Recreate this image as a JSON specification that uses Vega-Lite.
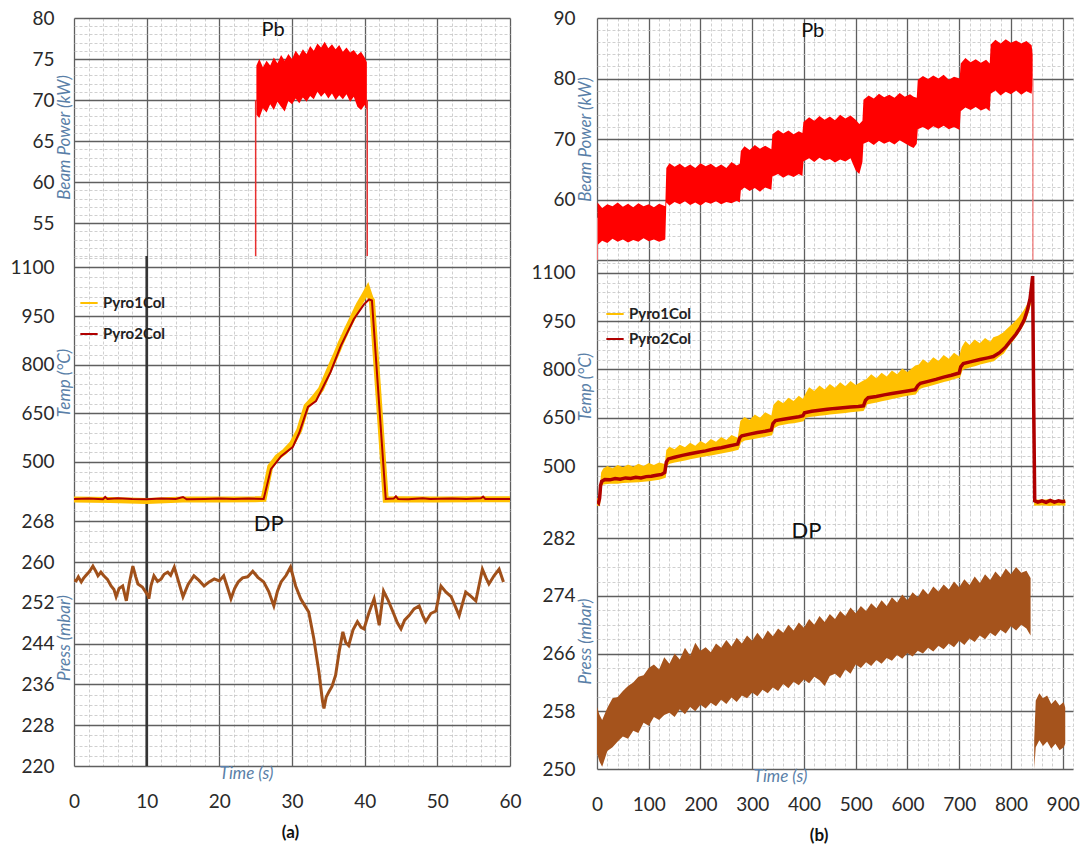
{
  "$schema": "https://vega.github.io/schema/vega-lite/v6.json",
  "padding": {"left": 9, "top": 9, "right": 5, "bottom": 5},
  "background": "white",
  "config": {
    "font": "Lato",
    "view": {"stroke": null},
    "axis": {
      "labelFont": "Lato", "labelFontSize": 19, "labelColor": "#2a2a2a", "ticks": false, "domain": false,
      "labelFlush": false, "labelOverlap": false, "titleFont": "Lato", "titleFontStyle": "italic",
      "titleFontWeight": "normal", "titleFontSize": 17, "titleColor": "#5a7fa8", "grid": true, "format": "d"
    },
    "axisX": {"labelPadding": 26},
    "axisY": {"labelPadding": 20, "titleBaseline": "middle"}
  },
  "datasets": {
    "beamA_band": [
      {"t":25.1,"v":68.2,"v2":74.2},{"t":25.5,"v":67.8,"v2":75},{"t":26,"v":69,"v2":74},{"t":26.5,"v":68.5,"v2":74.8},
      {"t":27,"v":69.5,"v2":74.2},{"t":27.5,"v":68.8,"v2":75.2},{"t":28,"v":69.8,"v2":74.5},{"t":28.5,"v":69.2,"v2":75.5},
      {"t":29,"v":68.6,"v2":74.8},{"t":29.5,"v":69.9,"v2":75.6},{"t":30,"v":69.5,"v2":75},{"t":30.5,"v":70.2,"v2":76},
      {"t":31,"v":69.6,"v2":75.4},{"t":31.5,"v":70.3,"v2":76.2},{"t":32,"v":69.8,"v2":75.6},{"t":32.5,"v":70.5,"v2":76.6},
      {"t":33,"v":70.1,"v2":76},{"t":33.5,"v":71,"v2":76.9},{"t":34,"v":70.4,"v2":76.4},{"t":34.5,"v":70.9,"v2":77.1},
      {"t":35,"v":70.2,"v2":76.3},{"t":35.5,"v":70.8,"v2":76.8},{"t":36,"v":70,"v2":76.2},{"t":36.5,"v":70.6,"v2":76.7},
      {"t":37,"v":70.1,"v2":75.9},{"t":37.5,"v":70.7,"v2":76.4},{"t":38,"v":69.8,"v2":75.8},{"t":38.5,"v":70.4,"v2":76.1},
      {"t":39,"v":69.2,"v2":75.5},{"t":39.5,"v":68.8,"v2":75.9},{"t":40,"v":69.4,"v2":75.2},{"t":40.3,"v":68.8,"v2":74.6}
    ],
    "beamA_edge": [{"t":25.0,"v":50,"v2":70},{"t":40.35,"v":50,"v2":70}],
    "tempA1": [
      {"t":0,"v":384},{"t":5,"v":383},{"t":10,"v":380},{"t":15,"v":384},{"t":20,"v":384},{"t":25,"v":385},{"t":26.1,"v":386},
      {"t":27,"v":485},{"t":28,"v":515},{"t":29,"v":532},{"t":30,"v":556},{"t":31,"v":598},{"t":32,"v":672},{"t":33,"v":696},
      {"t":34,"v":725},{"t":35,"v":778},{"t":36,"v":828},{"t":36.7,"v":866},{"t":37.5,"v":905},{"t":38.5,"v":952},{"t":39.2,"v":985},
      {"t":39.9,"v":1012},{"t":40.4,"v":1032},{"t":40.8,"v":1005},{"t":41,"v":998},{"t":42.9,"v":384},{"t":45,"v":385},
      {"t":50,"v":384},{"t":55,"v":385},{"t":60,"v":385}
    ],
    "tempA2": [
      {"t":0,"v":386},{"t":2,"v":387},{"t":4,"v":385},{"t":4.3,"v":392},{"t":4.6,"v":386},{"t":6,"v":388},{"t":8,"v":386},
      {"t":10,"v":385},{"t":12,"v":387},{"t":14,"v":386},{"t":15,"v":392},{"t":15.5,"v":385},{"t":18,"v":386},{"t":20,"v":387},
      {"t":22,"v":386},{"t":24,"v":387},{"t":26.1,"v":386},{"t":27.1,"v":478},{"t":28.5,"v":518},{"t":30.1,"v":546},{"t":31,"v":590},
      {"t":32.2,"v":670},{"t":33.3,"v":688},{"t":35.3,"v":777},{"t":36.7,"v":857},{"t":38.5,"v":940},{"t":39.9,"v":986},
      {"t":40.6,"v":1001},{"t":41,"v":998},{"t":42.9,"v":386},{"t":44,"v":387},{"t":44.3,"v":394},{"t":44.6,"v":386},{"t":46,"v":385},
      {"t":48,"v":388},{"t":49,"v":386},{"t":52,"v":387},{"t":54,"v":386},{"t":56,"v":388},{"t":56.3,"v":393},{"t":56.6,"v":386},
      {"t":58,"v":386},{"t":60,"v":386}
    ],
    "pressA": [
      {"t":0,"v":256.5},{"t":0.3,"v":256.3},{"t":0.6,"v":257.1},{"t":1,"v":256.1},{"t":1.3,"v":256.8},{"t":1.6,"v":257.3},{"t":2.1,"v":258.1},{"t":2.6,"v":259.2},{"t":3,"v":258.2},{"t":3.3,"v":257.3},{"t":3.7,"v":258},{"t":4.1,"v":257.3},
      {"t":4.6,"v":256.6},{"t":5.1,"v":255.3},{"t":5.5,"v":254.6},{"t":5.8,"v":253.2},{"t":6.2,"v":254.8},{"t":6.7,"v":255.3},{"t":7.2,"v":252.4},{"t":7.6,"v":255.8},{"t":8.1,"v":259.2},{"t":8.5,"v":257.1},{"t":8.8,"v":255.7},{"t":9.4,"v":255.1},
      {"t":10.2,"v":253.4},{"t":10.3,"v":252.8},{"t":10.6,"v":255.4},{"t":11,"v":257.3},{"t":11.5,"v":256.2},{"t":12,"v":256.7},{"t":12.4,"v":257.6},{"t":12.9,"v":258},{"t":13.3,"v":257.4},{"t":13.8,"v":259},
      {"t":14.4,"v":256.1},{"t":15,"v":253.2},{"t":15.7,"v":255.6},{"t":16.5,"v":257.3},{"t":17.2,"v":256.4},{"t":17.9,"v":255.3},{"t":18.6,"v":256.1},{"t":19.3,"v":256.7},{"t":20,"v":256.3},{"t":20.6,"v":257.3},{"t":21.1,"v":255.1},{"t":21.6,"v":252.8},
      {"t":22.1,"v":254.8},{"t":22.6,"v":256.1},{"t":23.2,"v":256.9},{"t":23.9,"v":257.1},{"t":24.6,"v":258.2},{"t":25.3,"v":257},{"t":26.1,"v":256.1},{"t":26.8,"v":254.2},{"t":27.5,"v":251.4},{"t":28,"v":254.3},{"t":28.5,"v":256.1},{"t":29.2,"v":257.4},{"t":29.8,"v":259},
      {"t":30.5,"v":255.3},{"t":31.2,"v":252.8},{"t":31.7,"v":251.6},{"t":32.3,"v":250.2},{"t":33,"v":245},{"t":33.7,"v":238.5},{"t":34.2,"v":232.7},
      {"t":34.4,"v":231.3},{"t":34.7,"v":233.5},{"t":35.1,"v":234.6},{"t":35.5,"v":235.6},{"t":36,"v":237.8},{"t":36.5,"v":242.5},{"t":37,"v":246.3},{"t":37.4,"v":244.2},{"t":37.8,"v":243.6},{"t":38.4,"v":246.7},{"t":39,"v":248.3},
      {"t":39.5,"v":247.2},{"t":39.9,"v":246.9},{"t":40.6,"v":250.1},{"t":41.3,"v":252.8},{"t":42,"v":247.6},{"t":42.6,"v":254.3},{"t":43.2,"v":252.6},{"t":43.9,"v":250.2},{"t":44.5,"v":248.1},{"t":45,"v":246.9},
      {"t":45.5,"v":248.6},{"t":46.1,"v":249.5},{"t":46.8,"v":250.8},{"t":47.5,"v":251.4},{"t":48,"v":249.5},{"t":48.4,"v":248.3},{"t":49.1,"v":249.9},{"t":49.8,"v":250.4},{"t":50.5,"v":255.3},{"t":51.2,"v":254.1},{"t":51.9,"v":253.2},
      {"t":52.5,"v":251.2},{"t":53,"v":249.5},{"t":53.9,"v":254.1},{"t":54.6,"v":253.3},{"t":55.3,"v":252.4},{"t":56.2,"v":258.6},{"t":56.7,"v":256.9},{"t":57.1,"v":255.7},{"t":57.8,"v":257.3},
      {"t":58.5,"v":258.6},{"t":59.1,"v":256.1}
    ],
    "beamB_band": [
      {"t":1,"v":52.5,"v2":59.5},{"t":10,"v":53.2,"v2":58.6},{"t":20,"v":52.8,"v2":59.2},{"t":30,"v":53.5,"v2":58.9},{"t":40,"v":53,"v2":59.5},
      {"t":50,"v":53.4,"v2":58.8},{"t":60,"v":52.9,"v2":59.3},{"t":70,"v":53.3,"v2":58.7},{"t":80,"v":53,"v2":59.4},{"t":90,"v":53.6,"v2":58.9},
      {"t":100,"v":53.1,"v2":59.2},{"t":110,"v":53.4,"v2":58.7},{"t":120,"v":53,"v2":59.3},{"t":132,"v":53.4,"v2":58.9},
      {"t":134,"v":59.5,"v2":65.2},{"t":140,"v":59,"v2":66},{"t":150,"v":59.6,"v2":65.4},{"t":160,"v":59.2,"v2":65.9},{"t":170,"v":59.7,"v2":65.3},
      {"t":180,"v":59.1,"v2":65.8},{"t":190,"v":59.5,"v2":65.2},{"t":200,"v":59,"v2":66},{"t":210,"v":59.6,"v2":65.5},{"t":220,"v":59.3,"v2":65.9},
      {"t":230,"v":59.7,"v2":65.3},{"t":240,"v":59.2,"v2":65.8},{"t":250,"v":59.6,"v2":65.2},{"t":260,"v":59.4,"v2":66.2},{"t":270,"v":59.8,"v2":65.6},
      {"t":276,"v":59.5,"v2":65.9},
      {"t":278,"v":61.5,"v2":68},{"t":285,"v":62,"v2":68.8},{"t":295,"v":61.4,"v2":68.2},{"t":305,"v":61.9,"v2":69},{"t":315,"v":61.3,"v2":68.4},
      {"t":325,"v":62,"v2":68.9},{"t":337,"v":61.6,"v2":68.3},
      {"t":339,"v":63.8,"v2":70.8},{"t":350,"v":64.2,"v2":71.5},{"t":360,"v":63.6,"v2":70.9},{"t":370,"v":64.1,"v2":71.4},{"t":380,"v":63.7,"v2":70.8},
      {"t":390,"v":64.2,"v2":71.3},{"t":397,"v":63.9,"v2":71},
      {"t":399,"v":66.3,"v2":72.8},{"t":410,"v":66.8,"v2":73.6},{"t":420,"v":66.2,"v2":73},{"t":430,"v":66.9,"v2":73.8},{"t":440,"v":66.4,"v2":73.2},
      {"t":450,"v":66.7,"v2":73.7},{"t":460,"v":66.1,"v2":73.1},{"t":470,"v":66.6,"v2":74},{"t":480,"v":66.3,"v2":73.4},{"t":490,"v":66.8,"v2":73.9},
      {"t":500,"v":64.8,"v2":73.2},{"t":507,"v":64.2,"v2":72.5},{"t":513,"v":66.2,"v2":73},
      {"t":515,"v":69.2,"v2":76.5},{"t":525,"v":69.6,"v2":77.2},{"t":535,"v":69,"v2":76.7},{"t":545,"v":69.7,"v2":77.5},{"t":555,"v":69.2,"v2":76.9},
      {"t":565,"v":69.6,"v2":77.3},{"t":575,"v":69.1,"v2":76.8},{"t":585,"v":69.8,"v2":77.6},{"t":595,"v":69.3,"v2":77},{"t":605,"v":68.8,"v2":77.4},
      {"t":612,"v":68.5,"v2":77},{"t":618,"v":69.2,"v2":76.8},
      {"t":620,"v":71.6,"v2":79.8},{"t":630,"v":72,"v2":80.4},{"t":640,"v":71.5,"v2":79.9},{"t":650,"v":72.1,"v2":80.5},{"t":660,"v":71.7,"v2":80},
      {"t":670,"v":72.2,"v2":80.6},{"t":680,"v":71.6,"v2":79.8},{"t":690,"v":72,"v2":80.3},{"t":701,"v":71.5,"v2":80},
      {"t":703,"v":74.6,"v2":82.5},{"t":712,"v":75.2,"v2":83.4},{"t":722,"v":74.8,"v2":82.7},{"t":732,"v":75.3,"v2":83.2},{"t":742,"v":74.7,"v2":82.6},
      {"t":752,"v":75.1,"v2":83.1},{"t":759,"v":74.6,"v2":82.5},
      {"t":761,"v":77.5,"v2":85.6},{"t":770,"v":78,"v2":86.4},{"t":780,"v":77.2,"v2":85.8},{"t":790,"v":77.8,"v2":86.5},{"t":800,"v":77.4,"v2":85.9},
      {"t":810,"v":78,"v2":86.3},{"t":820,"v":77.3,"v2":85.8},{"t":830,"v":77.9,"v2":86.2},{"t":840,"v":77.5,"v2":85.5},{"t":842,"v":79,"v2":84}
    ],
    "beamB_edge": [{"t":0.8,"v":49,"v2":57},{"t":842.5,"v":49,"v2":80}],
    "tempB_band": [
      {"t":0,"v":380,"v2":400,"seg":1},{"t":4,"v":380,"v2":400,"seg":1},{"t":6,"v":410,"v2":440,"seg":1},{"t":8,"v":440,"v2":480,"seg":1},
      {"t":12,"v":446,"v2":492,"seg":1},{"t":20,"v":447,"v2":500,"seg":1},{"t":30,"v":449,"v2":493,"seg":1},{"t":40,"v":448,"v2":503,"seg":1},
      {"t":50,"v":450,"v2":496,"seg":1},{"t":60,"v":451,"v2":505,"seg":1},{"t":70,"v":452,"v2":498,"seg":1},{"t":80,"v":453,"v2":507,"seg":1},
      {"t":90,"v":454,"v2":500,"seg":1},{"t":100,"v":456,"v2":509,"seg":1},{"t":110,"v":458,"v2":503,"seg":1},{"t":120,"v":460,"v2":511,"seg":1},
      {"t":131,"v":466,"v2":506,"seg":1},{"t":134,"v":503,"v2":550,"seg":1},{"t":140,"v":510,"v2":560,"seg":1},{"t":150,"v":514,"v2":552,"seg":1},
      {"t":160,"v":517,"v2":566,"seg":1},{"t":170,"v":520,"v2":558,"seg":1},{"t":180,"v":524,"v2":572,"seg":1},{"t":190,"v":527,"v2":563,"seg":1},
      {"t":200,"v":530,"v2":578,"seg":1},{"t":210,"v":533,"v2":569,"seg":1},{"t":220,"v":536,"v2":584,"seg":1},{"t":230,"v":539,"v2":575,"seg":1},
      {"t":240,"v":542,"v2":590,"seg":1},{"t":250,"v":545,"v2":581,"seg":1},{"t":260,"v":548,"v2":596,"seg":1},{"t":272,"v":553,"v2":588,"seg":1},
      {"t":277,"v":575,"v2":640,"seg":1},{"t":285,"v":582,"v2":652,"seg":1},{"t":295,"v":585,"v2":643,"seg":1},{"t":305,"v":588,"v2":660,"seg":1},
      {"t":315,"v":591,"v2":650,"seg":1},{"t":325,"v":594,"v2":667,"seg":1},{"t":337,"v":598,"v2":657,"seg":1},{"t":341,"v":620,"v2":690,"seg":1},
      {"t":350,"v":628,"v2":705,"seg":1},{"t":360,"v":631,"v2":695,"seg":1},{"t":370,"v":634,"v2":712,"seg":1},{"t":380,"v":636,"v2":702,"seg":1},
      {"t":390,"v":639,"v2":718,"seg":1},{"t":398,"v":642,"v2":708,"seg":1},{"t":402,"v":652,"v2":722,"seg":1},{"t":410,"v":655,"v2":745,"seg":1},
      {"t":420,"v":657,"v2":733,"seg":1},{"t":430,"v":659,"v2":750,"seg":1},{"t":440,"v":661,"v2":738,"seg":1},{"t":450,"v":663,"v2":755,"seg":1},
      {"t":460,"v":665,"v2":743,"seg":1},{"t":470,"v":666,"v2":760,"seg":1},{"t":480,"v":668,"v2":748,"seg":1},{"t":490,"v":670,"v2":764,"seg":1},
      {"t":500,"v":672,"v2":752,"seg":1},{"t":514,"v":674,"v2":765,"seg":1},{"t":521,"v":694,"v2":770,"seg":1},{"t":530,"v":697,"v2":785,"seg":1},
      {"t":540,"v":700,"v2":773,"seg":1},{"t":550,"v":704,"v2":790,"seg":1},{"t":560,"v":707,"v2":778,"seg":1},{"t":570,"v":711,"v2":797,"seg":1},
      {"t":580,"v":714,"v2":785,"seg":1},{"t":590,"v":718,"v2":803,"seg":1},{"t":600,"v":721,"v2":792,"seg":1},{"t":615,"v":725,"v2":812,"seg":1},
      {"t":622,"v":741,"v2":815,"seg":1},{"t":630,"v":746,"v2":832,"seg":1},{"t":640,"v":750,"v2":820,"seg":1},{"t":650,"v":755,"v2":838,"seg":1},
      {"t":660,"v":759,"v2":826,"seg":1},{"t":670,"v":764,"v2":845,"seg":1},{"t":680,"v":768,"v2":833,"seg":1},{"t":690,"v":773,"v2":852,"seg":1},
      {"t":700,"v":777,"v2":840,"seg":1},{"t":705,"v":800,"v2":870,"seg":1},{"t":712,"v":805,"v2":888,"seg":1},{"t":720,"v":809,"v2":876,"seg":1},
      {"t":730,"v":813,"v2":893,"seg":1},{"t":740,"v":818,"v2":881,"seg":1},{"t":750,"v":822,"v2":898,"seg":1},{"t":760,"v":826,"v2":886,"seg":1},
      {"t":766,"v":828,"v2":900,"seg":1},{"t":775,"v":840,"v2":905,"seg":1},{"t":785,"v":852,"v2":915,"seg":1},{"t":795,"v":875,"v2":930,"seg":1},
      {"t":805,"v":895,"v2":945,"seg":1},{"t":815,"v":918,"v2":962,"seg":1},{"t":825,"v":945,"v2":985,"seg":1},{"t":832,"v":975,"v2":1005,"seg":1},
      {"t":838,"v":1010,"v2":1035,"seg":1},{"t":841,"v":1045,"v2":1060,"seg":1},
      {"t":845,"v":380,"v2":396,"seg":2},{"t":860,"v":381,"v2":395,"seg":2},{"t":875,"v":379,"v2":397,"seg":2},{"t":890,"v":381,"v2":394,"seg":2},{"t":905,"v":380,"v2":396,"seg":2}
    ],
    "tempB2": [
      {"t":0,"v":392},{"t":3,"v":386},{"t":5,"v":400},{"t":7,"v":440},{"t":9,"v":452},{"t":15,"v":458},{"t":25,"v":457},{"t":35,"v":461},
      {"t":45,"v":459},{"t":55,"v":463},{"t":65,"v":461},{"t":75,"v":465},{"t":85,"v":463},{"t":95,"v":467},{"t":105,"v":468},{"t":115,"v":471},
      {"t":125,"v":474},{"t":131,"v":480},{"t":134,"v":512},{"t":138,"v":522},{"t":150,"v":527},{"t":165,"v":533},{"t":180,"v":538},
      {"t":195,"v":543},{"t":210,"v":547},{"t":225,"v":553},{"t":240,"v":557},{"t":255,"v":562},{"t":272,"v":568},{"t":276,"v":588},
      {"t":280,"v":594},{"t":295,"v":599},{"t":310,"v":604},{"t":325,"v":608},{"t":337,"v":612},{"t":340,"v":632},{"t":345,"v":641},
      {"t":360,"v":645},{"t":375,"v":649},{"t":390,"v":653},{"t":398,"v":656},{"t":401,"v":665},{"t":415,"v":670},{"t":430,"v":673},
      {"t":445,"v":676},{"t":460,"v":679},{"t":475,"v":681},{"t":490,"v":683},{"t":505,"v":685},{"t":515,"v":687},{"t":519,"v":704},
      {"t":524,"v":712},{"t":540,"v":716},{"t":555,"v":721},{"t":570,"v":725},{"t":585,"v":729},{"t":600,"v":733},{"t":615,"v":737},
      {"t":620,"v":750},{"t":625,"v":757},{"t":640,"v":763},{"t":655,"v":769},{"t":670,"v":776},{"t":685,"v":782},{"t":700,"v":789},
      {"t":703,"v":808},{"t":708,"v":818},{"t":725,"v":825},{"t":740,"v":831},{"t":755,"v":836},{"t":766,"v":840},{"t":778,"v":852},
      {"t":790,"v":870},{"t":800,"v":890},{"t":810,"v":910},{"t":818,"v":930},{"t":826,"v":955},{"t":832,"v":985},{"t":837,"v":1020},
      {"t":840,"v":1060},{"t":842,"v":1090},{"t":844,"v":700},{"t":846,"v":392},{"t":852,"v":388},{"t":860,"v":392},{"t":868,"v":387},
      {"t":876,"v":393},{"t":884,"v":388},{"t":892,"v":392},{"t":900,"v":389},{"t":905,"v":391}
    ],
    "pressB_band": [
      {"t":0,"v":252.2,"v2":258.6,"seg":1},{"t":5,"v":251,"v2":257.5,"seg":1},{"t":10,"v":250.3,"v2":256.8,"seg":1},{"t":20,"v":252.5,"v2":258.5,"seg":1},
      {"t":30,"v":253,"v2":259.8,"seg":1},{"t":40,"v":253.8,"v2":260,"seg":1},{"t":50,"v":254.5,"v2":260.8,"seg":1},{"t":60,"v":254.2,"v2":261.5,"seg":1},
      {"t":70,"v":255.3,"v2":262,"seg":1},{"t":80,"v":255,"v2":262.8,"seg":1},{"t":90,"v":256.4,"v2":263,"seg":1},{"t":100,"v":256,"v2":264,"seg":1},
      {"t":110,"v":257.2,"v2":264.5,"seg":1},{"t":120,"v":256.8,"v2":263.8,"seg":1},{"t":130,"v":257.5,"v2":265.5,"seg":1},{"t":140,"v":257.8,"v2":264.6,"seg":1},
      {"t":150,"v":257.2,"v2":266,"seg":1},{"t":160,"v":258.3,"v2":265.2,"seg":1},{"t":170,"v":257.6,"v2":266.8,"seg":1},{"t":180,"v":258.6,"v2":265.7,"seg":1},
      {"t":190,"v":258,"v2":267.5,"seg":1},{"t":200,"v":258.9,"v2":266.4,"seg":1},{"t":210,"v":258.4,"v2":266.9,"seg":1},{"t":220,"v":259.2,"v2":266.2,"seg":1},
      {"t":230,"v":258.7,"v2":267.4,"seg":1},{"t":240,"v":259.6,"v2":266.8,"seg":1},{"t":250,"v":259,"v2":267.9,"seg":1},{"t":260,"v":259.9,"v2":267,"seg":1},
      {"t":270,"v":259.3,"v2":268.2,"seg":1},{"t":280,"v":260.2,"v2":267.4,"seg":1},{"t":290,"v":259.8,"v2":268.5,"seg":1},{"t":300,"v":260.6,"v2":267.8,"seg":1},
      {"t":310,"v":260.1,"v2":268.9,"seg":1},{"t":320,"v":261,"v2":268,"seg":1},{"t":330,"v":260.5,"v2":269.2,"seg":1},{"t":340,"v":261.3,"v2":268.4,"seg":1},
      {"t":350,"v":260.8,"v2":269.5,"seg":1},{"t":360,"v":261.8,"v2":268.9,"seg":1},{"t":370,"v":261.2,"v2":270,"seg":1},{"t":380,"v":262.1,"v2":269.2,"seg":1},
      {"t":390,"v":261.6,"v2":270.3,"seg":1},{"t":400,"v":262.4,"v2":269.6,"seg":1},{"t":410,"v":261.9,"v2":270.8,"seg":1},{"t":420,"v":262.8,"v2":270,"seg":1},
      {"t":430,"v":262.3,"v2":271.2,"seg":1},{"t":440,"v":261.5,"v2":270.4,"seg":1},{"t":450,"v":262.9,"v2":271.5,"seg":1},{"t":460,"v":263.2,"v2":270.8,"seg":1},
      {"t":470,"v":262.6,"v2":271.9,"seg":1},{"t":480,"v":263.8,"v2":271.2,"seg":1},{"t":490,"v":263.2,"v2":272.4,"seg":1},{"t":500,"v":264.5,"v2":271.6,"seg":1},
      {"t":510,"v":264,"v2":272.6,"seg":1},{"t":520,"v":264.8,"v2":271.9,"seg":1},{"t":530,"v":264.3,"v2":273,"seg":1},{"t":540,"v":265.1,"v2":272.3,"seg":1},
      {"t":550,"v":264.6,"v2":273.4,"seg":1},{"t":560,"v":265.4,"v2":272.6,"seg":1},{"t":570,"v":265,"v2":273.8,"seg":1},{"t":580,"v":265.8,"v2":273.1,"seg":1},
      {"t":590,"v":265.3,"v2":274.2,"seg":1},{"t":600,"v":266.1,"v2":273.4,"seg":1},{"t":610,"v":265.6,"v2":274.5,"seg":1},{"t":620,"v":266.4,"v2":273.8,"seg":1},
      {"t":630,"v":266,"v2":275,"seg":1},{"t":640,"v":266.8,"v2":274.2,"seg":1},{"t":650,"v":266.3,"v2":275.3,"seg":1},{"t":660,"v":267.1,"v2":274.6,"seg":1},
      {"t":670,"v":266.6,"v2":275.6,"seg":1},{"t":680,"v":267.4,"v2":274.9,"seg":1},{"t":690,"v":266.9,"v2":276,"seg":1},{"t":700,"v":267.8,"v2":275.2,"seg":1},
      {"t":710,"v":267.2,"v2":276.3,"seg":1},{"t":720,"v":268.1,"v2":275.5,"seg":1},{"t":730,"v":267.6,"v2":276.7,"seg":1},{"t":740,"v":268.5,"v2":275.8,"seg":1},
      {"t":750,"v":268,"v2":277,"seg":1},{"t":760,"v":268.9,"v2":276.2,"seg":1},{"t":770,"v":268.4,"v2":277.4,"seg":1},{"t":780,"v":269.3,"v2":276.6,"seg":1},
      {"t":790,"v":268.8,"v2":277.8,"seg":1},{"t":800,"v":269.8,"v2":277,"seg":1},{"t":810,"v":269.2,"v2":278,"seg":1},{"t":820,"v":270,"v2":277.2,"seg":1},
      {"t":830,"v":269.5,"v2":277.5,"seg":1},{"t":838,"v":268.5,"v2":276.5,"seg":1},
      {"t":845,"v":250,"v2":254,"seg":2},{"t":848,"v":253,"v2":259.5,"seg":2},{"t":855,"v":254,"v2":260.5,"seg":2},{"t":862,"v":253.2,"v2":259.8,"seg":2},
      {"t":870,"v":253.8,"v2":260.2,"seg":2},{"t":878,"v":252.8,"v2":259,"seg":2},{"t":886,"v":253.5,"v2":259.6,"seg":2},{"t":894,"v":252.6,"v2":258.8,"seg":2},
      {"t":902,"v":253,"v2":259.3,"seg":2},{"t":905,"v":253.5,"v2":258.5,"seg":2}
    ]
  },
  "hconcat": [
    {
      "spacing": 0,
      "bounds": "flush",
      "title": {"text": "(a)", "orient": "bottom", "anchor": "middle", "fontSize": 17, "font": "Lato", "fontWeight": "bold", "color": "#111", "offset": 14, "dx": 25},
      "resolve": {"scale": {"x": "independent", "y": "independent", "color": "independent"}, "legend": {"color": "independent"}},
      "vconcat": [
        {
          "width": 436, "height": 238,
          "layer": [
            {"data": {"name": "beamA_band"}, "mark": {"type": "area", "color": "#ff0000", "clip": true},
             "encoding": {
               "x": {"field": "t", "type": "quantitative", "scale": {"domain": [0, 60], "nice": false, "zero": false},
                     "axis": {"values": [0,2,4,6,8,10,12,14,16,18,20,22,24,26,28,30,32,34,36,38,40,42,44,46,48,50,52,54,56,58,60], "tickCount": 1000, "labels": false, "title": null,
                              "gridColor": {"condition": {"test": "datum.value % 10 === 0", "value": "#5f5f5f"}, "value": "#c4c4c4"},
                              "gridDash": {"condition": {"test": "datum.value % 10 === 0", "value": []}, "value": [3, 2]},
                              "gridWidth": {"condition": {"test": "datum.value % 10 === 0", "value": 1.3}, "value": 0.8}}},
               "y": {"field": "v", "type": "quantitative", "scale": {"domain": [51, 80], "nice": false, "zero": false},
                     "axis": {"values": [51,52,53,54,55,56,57,58,59,60,61,62,63,64,65,66,67,68,69,70,71,72,73,74,75,76,77,78,79,80], "tickCount": 1000,
                              "title": "Beam Power (kW)", "titleX": -10,
                              "labelExpr": "datum.value % 5 === 0 ? datum.label : ''",
                              "gridColor": {"condition": {"test": "datum.value % 5 === 0", "value": "#5f5f5f"}, "value": "#c4c4c4"},
                              "gridDash": {"condition": {"test": "datum.value % 5 === 0", "value": []}, "value": [3, 2]},
                              "gridWidth": {"condition": {"test": "datum.value % 5 === 0", "value": 1.3}, "value": 0.8}}},
               "y2": {"field": "v2"}
             }},
            {"data": {"name": "beamA_edge"}, "mark": {"type": "rule", "color": "#e83030", "strokeWidth": 1.5, "clip": true},
             "encoding": {"x": {"field": "t", "type": "quantitative"}, "y": {"field": "v", "type": "quantitative"}, "y2": {"field": "v2"}}},
            {"data": {"values": [{"t": 27.4, "v": 78.5, "label": "Pb"}]}, "mark": {"type": "text", "fontSize": 20, "font": "Lato", "color": "#111"},
             "encoding": {"x": {"field": "t", "type": "quantitative"}, "y": {"field": "v", "type": "quantitative"}, "text": {"field": "label"}}}
          ]
        },
        {
          "width": 436, "height": 253,
          "layer": [
            {"data": {"values": [{"t": 10}]}, "mark": {"type": "rule", "color": "#333333", "strokeWidth": 2.5},
             "encoding": {
               "x": {"field": "t", "type": "quantitative", "scale": {"domain": [0, 60], "nice": false, "zero": false},
                     "axis": {"values": [0,2,4,6,8,10,12,14,16,18,20,22,24,26,28,30,32,34,36,38,40,42,44,46,48,50,52,54,56,58,60], "tickCount": 1000, "labels": false, "title": null,
                              "gridColor": {"condition": {"test": "datum.value % 10 === 0", "value": "#5f5f5f"}, "value": "#c4c4c4"},
                              "gridDash": {"condition": {"test": "datum.value % 10 === 0", "value": []}, "value": [3, 2]},
                              "gridWidth": {"condition": {"test": "datum.value % 10 === 0", "value": 1.3}, "value": 0.8}}}
             }},
            {"data": {"name": "tempA1"}, "mark": {"type": "line", "strokeWidth": 6, "clip": true},
             "encoding": {
               "x": {"field": "t", "type": "quantitative"},
               "y": {"field": "v", "type": "quantitative", "scale": {"domain": [355, 1135], "nice": false, "zero": false},
                     "axis": {"values": [380,410,440,470,500,530,560,590,620,650,680,710,740,770,800,830,860,890,920,950,980,1010,1040,1070,1100,1130], "tickCount": 1000,
                              "title": "Temp (°C)", "titleX": -10, "format": "d",
                              "labelExpr": "(datum.value - 500) % 150 === 0 && datum.value >= 500 ? datum.label : ''",
                              "gridColor": {"condition": {"test": "(datum.value - 500) % 150 === 0", "value": "#5f5f5f"}, "value": "#c4c4c4"},
                              "gridDash": {"condition": {"test": "(datum.value - 500) % 150 === 0", "value": []}, "value": [3, 2]},
                              "gridWidth": {"condition": {"test": "(datum.value - 500) % 150 === 0", "value": 1.3}, "value": 0.8}}},
               "color": {"datum": "Pyro1Col", "scale": {"domain": ["Pyro1Col", "Pyro2Col"], "range": ["#ffc000", "#b00000"]},
                         "legend": {"orient": "none", "legendX": 5, "legendY": 37, "title": null, "symbolType": "stroke", "symbolSize": 300,
                                    "symbolStrokeWidth": 2, "labelFont": "Lato", "labelFontSize": 15, "labelFontWeight": "bold", "labelColor": "#222", "rowPadding": 13}}
             }},
            {"data": {"name": "tempA2"}, "mark": {"type": "line", "strokeWidth": 2, "clip": true},
             "encoding": {
               "x": {"field": "t", "type": "quantitative"},
               "y": {"field": "v", "type": "quantitative"},
               "color": {"datum": "Pyro2Col"}
             }}
          ]
        },
        {
          "width": 436, "height": 257,
          "layer": [
            {"data": {"values": [{"t": 10}]}, "mark": {"type": "rule", "color": "#333333", "strokeWidth": 2.5},
             "encoding": {
               "x": {"field": "t", "type": "quantitative", "scale": {"domain": [0, 60], "nice": false, "zero": false},
                     "axis": {"values": [0,2,4,6,8,10,12,14,16,18,20,22,24,26,28,30,32,34,36,38,40,42,44,46,48,50,52,54,56,58,60], "tickCount": 1000,
                              "labelExpr": "datum.value % 10 === 0 ? datum.label : ''",
                              "title": "Time (s)", "titleX": 172, "titleY": 7, "titleBaseline": "middle",
                              "gridColor": {"condition": {"test": "datum.value % 10 === 0", "value": "#5f5f5f"}, "value": "#c4c4c4"},
                              "gridDash": {"condition": {"test": "datum.value % 10 === 0", "value": []}, "value": [3, 2]},
                              "gridWidth": {"condition": {"test": "datum.value % 10 === 0", "value": 1.3}, "value": 0.8}}}
             }},
            {"data": {"name": "pressA"}, "mark": {"type": "line", "color": "#a0501a", "strokeWidth": 3, "clip": true},
             "encoding": {
               "x": {"field": "t", "type": "quantitative"},
               "y": {"field": "v", "type": "quantitative", "scale": {"domain": [220, 270.4], "nice": false, "zero": false},
                     "axis": {"values": [220,222,224,226,228,230,232,234,236,238,240,242,244,246,248,250,252,254,256,258,260,262,264,266,268,270], "tickCount": 1000,
                              "title": "Press (mbar)", "titleX": -10,
                              "labelExpr": "(datum.value - 220) % 8 === 0 ? datum.label : ''",
                              "gridColor": {"condition": {"test": "(datum.value - 220) % 8 === 0", "value": "#5f5f5f"}, "value": "#c4c4c4"},
                              "gridDash": {"condition": {"test": "(datum.value - 220) % 8 === 0", "value": []}, "value": [3, 2]},
                              "gridWidth": {"condition": {"test": "(datum.value - 220) % 8 === 0", "value": 1.3}, "value": 0.8}}}
             }},
            {"data": {"values": [{"t": 26.8, "v": 267.4, "label": "DP"}]}, "mark": {"type": "text", "fontSize": 22, "font": "Lato", "color": "#111"},
             "encoding": {"x": {"field": "t", "type": "quantitative"}, "y": {"field": "v", "type": "quantitative"}, "text": {"field": "label"}}}
          ]
        }
      ]
    },
    {
      "spacing": 0,
      "bounds": "flush",
      "title": {"text": "(b)", "orient": "bottom", "anchor": "middle", "fontSize": 17, "font": "Lato", "fontWeight": "bold", "color": "#111", "offset": 14, "dx": 14},
      "resolve": {"scale": {"x": "independent", "y": "independent", "color": "independent"}, "legend": {"color": "independent"}},
      "vconcat": [
        {
          "width": 476, "height": 242,
          "layer": [
            {"data": {"name": "beamB_band"}, "mark": {"type": "area", "color": "#ff0000", "clip": true},
             "encoding": {
               "x": {"field": "t", "type": "quantitative", "scale": {"domain": [0, 920], "nice": false, "zero": false},
                     "axis": {"values": [0,20,40,60,80,100,120,140,160,180,200,220,240,260,280,300,320,340,360,380,400,420,440,460,480,500,520,540,560,580,600,620,640,660,680,700,720,740,760,780,800,820,840,860,880,900,920], "tickCount": 1000, "labels": false, "title": null,
                              "gridColor": {"condition": {"test": "datum.value % 100 === 0", "value": "#5f5f5f"}, "value": "#c4c4c4"},
                              "gridDash": {"condition": {"test": "datum.value % 100 === 0", "value": []}, "value": [3, 2]},
                              "gridWidth": {"condition": {"test": "datum.value % 100 === 0", "value": 1.3}, "value": 0.8}}},
               "y": {"field": "v", "type": "quantitative", "scale": {"domain": [50, 90], "nice": false, "zero": false},
                     "axis": {"values": [50,52,54,56,58,60,62,64,66,68,70,72,74,76,78,80,82,84,86,88,90], "tickCount": 1000,
                              "title": "Beam Power (kW)", "titleX": -12, "labelPadding": 22,
                              "labelExpr": "datum.value % 10 === 0 && datum.value >= 60 ? datum.label : ''",
                              "gridColor": {"condition": {"test": "datum.value % 10 === 0", "value": "#5f5f5f"}, "value": "#c4c4c4"},
                              "gridDash": {"condition": {"test": "datum.value % 10 === 0", "value": []}, "value": [3, 2]},
                              "gridWidth": {"condition": {"test": "datum.value % 10 === 0", "value": 1.3}, "value": 0.8}}},
               "y2": {"field": "v2"}
             }},
            {"data": {"name": "beamB_edge"}, "mark": {"type": "rule", "color": "#f07070", "strokeWidth": 1.2, "clip": true},
             "encoding": {"x": {"field": "t", "type": "quantitative"}, "y": {"field": "v", "type": "quantitative"}, "y2": {"field": "v2"}}},
            {"data": {"values": [{"t": 417, "v": 87.9, "label": "Pb"}]}, "mark": {"type": "text", "fontSize": 20, "font": "Lato", "color": "#111"},
             "encoding": {"x": {"field": "t", "type": "quantitative"}, "y": {"field": "v", "type": "quantitative"}, "text": {"field": "label"}}}
          ]
        },
        {
          "width": 476, "height": 253,
          "layer": [
            {"data": {"name": "tempB_band"}, "mark": {"type": "area", "color": "#ffc000", "clip": true},
             "encoding": {
               "x": {"field": "t", "type": "quantitative", "scale": {"domain": [0, 920], "nice": false, "zero": false},
                     "axis": {"values": [0,20,40,60,80,100,120,140,160,180,200,220,240,260,280,300,320,340,360,380,400,420,440,460,480,500,520,540,560,580,600,620,640,660,680,700,720,740,760,780,800,820,840,860,880,900,920], "tickCount": 1000, "labels": false, "title": null,
                              "gridColor": {"condition": {"test": "datum.value % 100 === 0", "value": "#5f5f5f"}, "value": "#c4c4c4"},
                              "gridDash": {"condition": {"test": "datum.value % 100 === 0", "value": []}, "value": [3, 2]},
                              "gridWidth": {"condition": {"test": "datum.value % 100 === 0", "value": 1.3}, "value": 0.8}}},
               "y": {"field": "v", "type": "quantitative", "scale": {"domain": [354, 1140], "nice": false, "zero": false},
                     "axis": {"values": [380,410,440,470,500,530,560,590,620,650,680,710,740,770,800,830,860,890,920,950,980,1010,1040,1070,1100,1130], "tickCount": 1000,
                              "title": "Temp (°C)", "titleX": -12, "labelPadding": 22, "format": "d",
                              "labelExpr": "(datum.value - 500) % 150 === 0 && datum.value >= 500 ? datum.label : ''",
                              "gridColor": {"condition": {"test": "(datum.value - 500) % 150 === 0", "value": "#5f5f5f"}, "value": "#c4c4c4"},
                              "gridDash": {"condition": {"test": "(datum.value - 500) % 150 === 0", "value": []}, "value": [3, 2]},
                              "gridWidth": {"condition": {"test": "(datum.value - 500) % 150 === 0", "value": 1.3}, "value": 0.8}}},
               "y2": {"field": "v2"},
               "detail": {"field": "seg"}
             }},
            {"data": {"name": "tempB_band"}, "mark": {"type": "line", "strokeWidth": 2, "clip": true},
             "encoding": {
               "x": {"field": "t", "type": "quantitative"},
               "y": {"field": "v", "type": "quantitative"},
               "detail": {"field": "seg"},
               "color": {"datum": "Pyro1Col", "scale": {"domain": ["Pyro1Col", "Pyro2Col"], "range": ["#ffc000", "#b00000"]},
                         "legend": {"orient": "none", "legendX": 8, "legendY": 44, "title": null, "symbolType": "stroke", "symbolSize": 300,
                                    "symbolStrokeWidth": 2, "labelFont": "Lato", "labelFontSize": 15, "labelFontWeight": "bold", "labelColor": "#222", "rowPadding": 7}}
             }},
            {"data": {"name": "tempB2"}, "mark": {"type": "line", "strokeWidth": 3.5, "clip": true},
             "encoding": {
               "x": {"field": "t", "type": "quantitative"},
               "y": {"field": "v", "type": "quantitative"},
               "color": {"datum": "Pyro2Col"}
             }}
          ]
        },
        {
          "width": 476, "height": 256,
          "layer": [
            {"data": {"name": "pressB_band"}, "mark": {"type": "area", "color": "#a5531c", "clip": true},
             "encoding": {
               "x": {"field": "t", "type": "quantitative", "scale": {"domain": [0, 920], "nice": false, "zero": false},
                     "axis": {"values": [0,20,40,60,80,100,120,140,160,180,200,220,240,260,280,300,320,340,360,380,400,420,440,460,480,500,520,540,560,580,600,620,640,660,680,700,720,740,760,780,800,820,840,860,880,900,920], "tickCount": 1000,
                              "labelExpr": "datum.value % 100 === 0 ? datum.label : ''",
                              "title": "Time (s)", "titleX": 183, "titleY": 7, "titleBaseline": "middle",
                              "gridColor": {"condition": {"test": "datum.value % 100 === 0", "value": "#5f5f5f"}, "value": "#c4c4c4"},
                              "gridDash": {"condition": {"test": "datum.value % 100 === 0", "value": []}, "value": [3, 2]},
                              "gridWidth": {"condition": {"test": "datum.value % 100 === 0", "value": 1.3}, "value": 0.8}}},
               "y": {"field": "v", "type": "quantitative", "scale": {"domain": [250, 285.5], "nice": false, "zero": false},
                     "axis": {"values": [250,252,254,256,258,260,262,264,266,268,270,272,274,276,278,280,282,284], "tickCount": 1000,
                              "title": "Press (mbar)", "titleX": -12, "labelPadding": 22,
                              "labelExpr": "(datum.value - 250) % 8 === 0 ? datum.label : ''",
                              "gridColor": {"condition": {"test": "(datum.value - 250) % 8 === 0", "value": "#5f5f5f"}, "value": "#c4c4c4"},
                              "gridDash": {"condition": {"test": "(datum.value - 250) % 8 === 0", "value": []}, "value": [3, 2]},
                              "gridWidth": {"condition": {"test": "(datum.value - 250) % 8 === 0", "value": 1.3}, "value": 0.8}}},
               "y2": {"field": "v2"},
               "detail": {"field": "seg"}
             }},
            {"data": {"values": [{"t": 405, "v": 283, "label": "DP"}]}, "mark": {"type": "text", "fontSize": 22, "font": "Lato", "color": "#111"},
             "encoding": {"x": {"field": "t", "type": "quantitative"}, "y": {"field": "v", "type": "quantitative"}, "text": {"field": "label"}}}
          ]
        }
      ]
    }
  ],
  "spacing": 8,
  "resolve": {"scale": {"x": "independent", "y": "independent", "color": "independent"}, "legend": {"color": "independent"}}
}
